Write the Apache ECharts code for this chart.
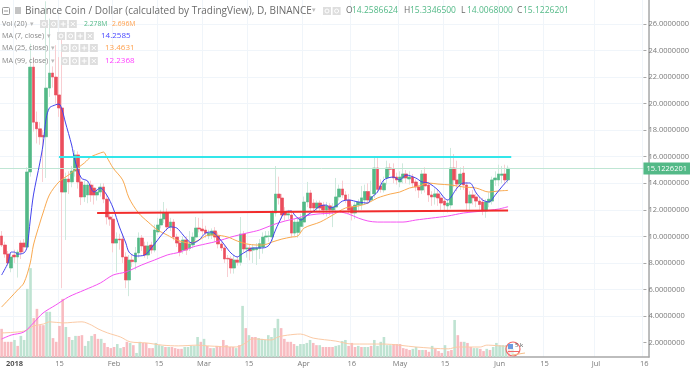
<!DOCTYPE html>
<html>
<head>
<meta charset="utf-8">
<title>BNB/USD</title>
<script src="https://cdn.jsdelivr.net/npm/echarts@6/dist/echarts.min.js"></script>
<style>
  html, body { margin: 0; padding: 0; background: #fff; }
  /* the screenshot this follows is a soft, scaled down one */
  #chart { width: 692px; height: 370px; filter: blur(0.4px); }
</style>
</head>
<body>
<div id="chart"></div>
<script>
// daily candles, first one is 28 Dec 2017
const opens = [
  10.03, 9.35, 8.67, 7.62, 8.6, 8.45, 9.5, 9.5, 9.2, 14.85,
  22.75, 18.6, 18.1, 17.6, 17.5, 21.17, 22.3, 22, 20.65, 19.67,
  13.34, 14.32, 14.1, 14.92, 16.13, 14.1, 12.97, 13.12, 13.87, 13.64,
  13.12, 13.34, 13.72, 12.81, 11.46, 11.3, 9.5, 9.8, 9.8, 8.45,
  6.72, 8.22, 8.07, 8.75, 9.88, 9.28, 8.6, 9.35, 8.97, 10.33,
  10.86, 11.31, 11.76, 10.71, 11.08, 9.95, 9.5, 8.97, 9.73, 9.1,
  9.35, 9.95, 10.63, 10.56, 10.48, 10.05, 10.1, 10.41, 10.03, 9.43,
  9.13, 8.35, 8.3, 7.62, 8.22, 8.05, 10.18, 9.05, 9.13, 8.97,
  9, 9.1, 9.2, 9.95, 10, 9.95, 11.76, 13.19, 12.89, 11.84,
  11.61, 11.61, 10.25, 10.3, 10.75, 11.08, 12.59, 13.27, 12.51, 12.14,
  12.51, 12.36, 11.99, 12.3, 11.99, 12.21, 12.97, 13.57, 13.12, 12.74,
  12.21, 11.76, 12.36, 12.4, 12.74, 13.38, 12.74, 13.2, 15.15, 13.8,
  13.5, 14.4, 15.15, 15.1, 14.47, 14.1, 14.4, 14.7, 14.32, 14.47,
  14.1, 13.72, 13.49, 14.7, 13.87, 13.12, 12.97, 13.2, 12.89, 12.66,
  12.29, 12.36, 15.15, 14.25, 13.94, 14.77, 13.87, 12.51, 13.12, 12.97,
  12.66, 12.59, 11.91, 12.59, 12.66, 14.25, 14.25, 14.6, 14.7, 14.2586624
]
const closes = [
  9.35, 8.67, 8, 8.45, 8.45, 8.82, 8.82, 9.2, 14.85, 22.75,
  18.6, 18.1, 17.5, 17.5, 21.17, 22.3, 22, 20.65, 19.67, 13.34,
  14.32, 14.1, 14.92, 16.13, 14.1, 12.97, 13.87, 13.87, 13.12, 13.12,
  13.34, 13.72, 12.81, 11.46, 11.3, 9.5, 9.8, 9.73, 8.45, 6.72,
  8.22, 8.1, 8.75, 9.88, 9.28, 8.6, 9.28, 8.97, 10.48, 10.86,
  11.31, 11.76, 10.71, 11.08, 9.95, 9.5, 8.82, 9.73, 8.97, 9.43,
  9.95, 10.63, 10.56, 10.41, 10.25, 10.25, 10.4, 9.95, 9.43, 9.13,
  8.3, 8.3, 7.62, 8.22, 8.05, 10.18, 9.05, 9.13, 8.9, 9.13,
  9.13, 9.45, 9.95, 10.03, 10.03, 11.76, 13.19, 12.89, 11.61, 11.61,
  11.7, 10.25, 11.08, 11.08, 11.35, 12.59, 13.27, 12.14, 12.14, 12.51,
  12.14, 11.99, 12.3, 12, 12.2, 12.97, 13.57, 13.12, 12.74, 11.99,
  11.76, 12.36, 12.59, 12.9, 13.38, 12.74, 13, 15.15, 13.54, 13.54,
  14, 15.15, 15.05, 14.4, 14.25, 14.47, 14.7, 14.4, 14.47, 14.02,
  13.72, 13.49, 14.7, 13.8, 13.12, 12.97, 13.2, 12.89, 12.51, 12.36,
  12.51, 15.15, 14.25, 13.94, 14.7, 13.87, 12.51, 13.12, 12.9, 12.66,
  12.4, 11.91, 12.59, 12.8, 14.25, 14.4, 14.7, 14.7, 14.25, 15.1226201
]
const lows = [
  9.2, 8.4, 7.8, 7.3, 8, 6.9, 8.3, 8.8, 9, 14.5,
  17.9, 17, 16.9, 14.1, 14.4, 20.5, 21.2, 20, 19, 6.1,
  9.73, 13.2, 13.7, 14.5, 13.6, 12.36, 12.6, 12.5, 12.6, 12.4,
  12.7, 13, 12.5, 10.9, 10.8, 8.8, 7.3, 9, 8, 6.1,
  5.5, 7.7, 7.5, 8.4, 8.9, 8.4, 8.3, 8.7, 8.8, 10.1,
  10.6, 11, 10.4, 10.4, 9.7, 9.2, 8.5, 8.7, 8.6, 8.9,
  9.1, 9.7, 10.3, 10.1, 9.9, 9.8, 9.8, 9.6, 9.1, 8.9,
  8, 6.94, 7.2, 7.2, 7.8, 7.8, 8.8, 8.4, 8.2, 8,
  7.85, 8.3, 8.7, 9.4, 9.6, 9.6, 11.5, 12.4, 11.3, 11.2,
  11.3, 9.9, 10, 9.9, 10.3, 10.7, 12.2, 11.8, 11.9, 11.9,
  11.8, 11.6, 11.5, 11.6, 10.7, 11.9, 12.7, 12.9, 12.5, 11.7,
  11.2, 11.3, 11.9, 12, 12.4, 12.5, 12.6, 12.9, 13.3, 13.3,
  13.3, 13.9, 14.6, 14, 13.9, 13.7, 14, 14, 13.9, 13.7,
  13.4, 12.9, 13.2, 13.3, 12.6, 12.3, 12.4, 12.3, 11.9, 11.9,
  11.8, 12.1, 13.7, 13.4, 13.5, 13.5, 11.9, 12, 12.4, 12.2,
  12, 11.6, 11.4, 12.2, 12.4, 13.8, 13.8, 14, 13.9, 14.0068
]
const highs = [
  10.4, 9.6, 8.9, 8.8, 9, 9, 9.7, 9.8, 15.2, 24.5,
  23.5, 19.4, 18.6, 18, 27.7, 26.4, 22.8, 24.4, 23.5, 25,
  14.8, 14.9, 15.3, 16.5, 16.4, 14.4, 14.2, 14.2, 14.2, 13.9,
  13.6, 14, 14, 13.2, 11.9, 11.6, 10.3, 10.2, 10.2, 8.8,
  8.6, 8.6, 9.2, 10.3, 10.1, 9.6, 9.6, 9.6, 10.9, 11.4,
  12, 12.59, 12.1, 11.4, 11.3, 10.2, 9.7, 10, 10, 10.4,
  10.3, 11.46, 11.4, 11.3, 10.8, 10.5, 10.6, 10.7, 10.3, 9.6,
  9.3, 8.6, 8.5, 8.6, 8.5, 11.46, 10.4, 9.4, 9.4, 9.4,
  9.5, 9.8, 10.3, 10.4, 10.4, 12, 15.3, 14.5, 13.2, 12.2,
  12, 11.9, 11.3, 11.4, 11.7, 13, 14.1, 13.5, 12.8, 12.7,
  12.7, 12.6, 12.6, 12.5, 12.5, 14.4, 13.9, 14.2, 13.4, 13.2,
  12.4, 12.6, 12.8, 13.8, 13.9, 14, 14.2, 16, 16, 14.3,
  14.5, 15.7, 15.5, 15.5, 14.8, 14.9, 15.5, 15, 14.9, 14.7,
  14.3, 13.9, 15, 15.2, 14.1, 13.4, 13.6, 13.5, 13.1, 12.9,
  12.8, 16.66, 16.2, 15.7, 15.2, 15.3, 14.1, 13.4, 13.5, 13.2,
  13, 12.9, 12.8, 13.3, 14.5, 14.9, 15.4, 15.3, 15.4, 15.3346
]
// volume in millions, 1 = red bar
const volumes = [
  7.6, 4.1, 4.1, 4.1, 4.6, 3, 5.7, 4.6, 18.4, 24,
  10.5, 13, 8.6, 8.6, 12.2, 12.2, 5.1, 4.1, 8.4, 15.7,
  8.1, 5.4, 4.6, 5.7, 5.7, 5.9, 3, 4.3, 5.7, 6.2,
  4.9, 4.9, 3.8, 2.7, 2.4, 2.7, 3.5, 2.4, 2.7, 4.1,
  3.8, 3.2, 1.1, 4.1, 3.8, 3.8, 2.4, 2.4, 3.8, 3.2,
  3, 2.7, 2.7, 2.7, 2.4, 2.2, 2.2, 2.7, 2.7, 3,
  3, 5.4, 4.1, 4.9, 3, 2.4, 2.4, 3, 2.7, 4.6,
  3.2, 2.7, 2.7, 2.4, 3.2, 13.8, 7.8, 5.9, 5.4, 5.4,
  5.1, 4.9, 4.6, 5.9, 5.4, 7.8, 10.3, 7.8, 4.9, 4.1,
  4.1, 3.5, 3, 3.5, 3.5, 3.8, 4.6, 3.8, 3.2, 3.2,
  2.7, 2.7, 2.7, 2.7, 3, 3.2, 4.3, 4.6, 3, 3.8,
  2.7, 3, 2.7, 2.7, 2.7, 3, 4.6, 3, 4.1, 5.4,
  3.2, 3.2, 3.5, 3.5, 3.5, 2.4, 2.2, 1.9, 2.2, 2.7,
  1.9, 1.9, 1.9, 1.4, 3, 2.2, 1.6, 1.1, 3.2, 1.6,
  1.9, 10, 5.9, 4.1, 4.1, 3.8, 2.7, 2.4, 2.4, 2.2,
  1.6, 2.2, 1.9, 2.7, 3.8, 3.2, 3.2, 3.2, 2.7, 2.278
]
const volumeDown = [
  1, 1, 1, 1, 0, 1, 0, 0, 0, 0,
  1, 1, 1, 1, 0, 0, 1, 1, 1, 1,
  0, 1, 0, 0, 1, 1, 0, 0, 0, 1,
  1, 0, 1, 1, 1, 1, 0, 0, 1, 1,
  0, 1, 0, 0, 1, 1, 1, 1, 0, 0,
  0, 1, 0, 1, 1, 1, 1, 0, 0, 0,
  0, 0, 1, 0, 1, 1, 0, 1, 1, 1,
  1, 1, 1, 0, 1, 0, 1, 0, 1, 1,
  0, 0, 0, 0, 0, 0, 0, 1, 1, 1,
  1, 1, 0, 0, 0, 0, 0, 1, 1, 0,
  1, 1, 1, 1, 0, 0, 0, 0, 1, 1,
  1, 0, 1, 0, 0, 1, 0, 0, 0, 0,
  0, 0, 1, 1, 1, 1, 1, 1, 0, 0,
  1, 0, 1, 1, 0, 1, 1, 1, 0, 1,
  1, 0, 1, 1, 0, 1, 1, 0, 0, 1,
  1, 0, 1, 0, 0, 0, 0, 0, 1, 0
]
const ma7 = [
  [-4, 7.09], [-2, 8], [-1, 8.82], [0, 8.82], [1, 8.67], [3, 8.75], [4, 9.2], [5, 11.23], [6, 13.12], [8, 15.53],
  [9, 16.88], [10, 18.91], [11, 19.67], [12, 19.82], [14, 19.97], [15, 19.52], [16, 18.61], [18, 16.88], [19, 15.75], [21, 14.4],
  [23, 14.17], [25, 13.34], [27, 13.64], [29, 13.12], [31, 12.14], [33, 10.71], [35, 9.5], [36, 8.82], [38, 8.52], [41, 8.6],
  [43, 9.13], [45, 9.73], [47, 10.33], [49, 10.71], [51, 10.63], [53, 10.1], [55, 9.58], [56, 9.5], [58, 9.73], [60, 10.25],
  [62, 10.33], [64, 9.95], [66, 9.35], [68, 8.75], [70, 8.45], [71, 8.6], [73, 8.9], [75, 9.13], [78, 9.13], [80, 9.35],
  [82, 10.48], [83, 11], [85, 11.84], [87, 11.91], [88, 11.61], [90, 11.23], [92, 11.61], [94, 11.91], [96, 12.29], [98, 12.36],
  [99, 12.14], [101, 12.29], [103, 12.66], [105, 12.74], [108, 12.59], [111, 12.51], [112, 12.89], [114, 13.34], [116, 14.25], [119, 14.47],
  [121, 14.25], [123, 14.62], [126, 14.4], [128, 14.1], [130, 14.02], [133, 13.49], [135, 12.89], [136, 12.74], [139, 13.64], [141, 14.02],
  [143, 14.02], [145, 13.27], [147, 12.74], [149, 12.59], [151, 13.12], [153, 13.72], [155, 14.2585]
]
const ma25 = [
  [-4, 4.68], [-1, 5.44], [1, 5.96], [3, 6.49], [5, 8], [6, 9.35], [8, 11], [9, 11.76], [11, 13.12], [14, 14.1],
  [17, 14.62], [19, 15], [22, 15.53], [24, 15.98], [27, 16.28], [28, 16.35], [29, 15.98], [31, 15.15], [34, 14.25], [36, 12.89],
  [39, 11.76], [42, 11.08], [45, 10.48], [48, 10.1], [51, 9.73], [55, 9.5], [58, 9.73], [61, 10.1], [63, 10.1], [67, 9.95],
  [70, 9.65], [73, 9.43], [76, 9.35], [78, 9.35], [81, 9.58], [84, 9.8], [87, 9.95], [89, 10.03], [91, 10.63], [96, 11.08],
  [100, 11.61], [104, 12.14], [108, 12.29], [111, 12.51], [114, 12.89], [118, 13.19], [121, 13.34], [124, 13.64], [127, 13.79], [130, 14.02],
  [133, 13.94], [137, 13.87], [141, 13.72], [145, 13.64], [149, 13.34], [152, 13.42], [155, 13.4631]
]
const ma99 = [
  [-4, 2.27], [-1, 2.57], [3, 2.8], [6, 3.48], [9, 4.23], [13, 4.83], [17, 5.44], [22, 5.96], [27, 6.49], [31, 7.09],
  [35, 7.32], [40, 7.85], [44, 8.22], [48, 8.6], [52, 8.82], [56, 9.2], [60, 9.43], [64, 9.65], [68, 9.95], [73, 10.25],
  [77, 10.48], [81, 10.86], [85, 11.16], [89, 11.38], [91, 11.53], [95, 11.68], [100, 11.76], [102, 11.84], [105, 11.68], [108, 11.38],
  [111, 11.16], [114, 11.08], [118, 11.08], [122, 11.08], [126, 11.23], [131, 11.38], [136, 11.53], [141, 11.76], [147, 11.91], [152, 12.06],
  [155, 12.2368]
]
const volumeMa = [
  [-4, 6.5], [3, 7], [6, 8.4], [9, 8.9], [11, 9.5], [15, 9.2], [21, 9.5], [24, 8.6], [26, 7.6], [29, 6.5],
  [33, 5.4], [36, 4.1], [41, 3.8], [46, 3.2], [51, 3], [57, 3.2], [60, 3], [69, 2.7], [72, 3.8], [74, 4.9],
  [80, 4.6], [82, 5.4], [85, 5.9], [89, 6.2], [93, 5.1], [100, 4.3], [105, 3.5], [115, 3.5], [125, 2.7], [135, 2.2],
  [138, 2.7], [145, 2.7], [147, 3.2], [155, 2.696]
]
// hand drawn trend lines
const resistance = [[14, 15.98], [156, 15.98]]
const support = [[26, 11.76], [155, 11.95]]
const lastPrice = 15.1226201
const priceTicks = [2, 4, 6, 8, 10, 12, 14, 16, 18, 20, 22, 24, 26]
const dateTicks = {
  '2018-01-01': '2018', '2018-01-15': '15', '2018-02-01': 'Feb', '2018-02-15': '15',
  '2018-03-01': 'Mar', '2018-03-15': '15', '2018-04-01': 'Apr', '2018-04-16': '16',
  '2018-05-01': 'May', '2018-05-15': '15', '2018-06-01': 'Jun', '2018-06-15': '15',
  '2018-07-01': 'Jul', '2018-07-16': '16'
}

const GREEN = '#53b987'
const RED = '#eb4d5c'
const FONT = '"Open Sans", sans-serif'

let categories = []
for (let i = 0; i < 202; i++) {
  categories.push(new Date(Date.UTC(2017, 11, 28 + i)).toISOString().slice(0, 10))
}
const toIndex = (list) => list.map((p) => [p[0] + 4, p[1]])
const isTick = (index, value) => dateTicks[value] !== undefined

const wickData = opens.map((o, i) => [o, closes[i], lows[i], highs[i]])
const bodyData = opens.map((o, i) => [o, closes[i], Math.min(o, closes[i]), Math.max(o, closes[i])])
const volumeData = volumes.map((v, i) => ({
  value: v,
  itemStyle: { color: volumeDown[i] ? '#f8bcc1' : '#bfe3d2' }
}))

// legend rows and toolbar buttons in the top left corner
function label(x, y, text, color, size) {
  return {
    type: 'text',
    x: x,
    y: y,
    silent: true,
    style: {
      text: text,
      fill: color,
      fontSize: size,
      fontFamily: FONT,
      textVerticalAlign: 'middle'
    }
  }
}
function stroke(x1, y1, x2, y2) {
  return {
    type: 'line',
    silent: true,
    shape: { x1: x1, y1: y1, x2: x2, y2: y2 },
    style: { stroke: '#fff', lineWidth: 1 }
  }
}
function buttons(x, y, count) {
  let res = []
  for (let i = 0; i < count; i++) {
    const bx = x + i * 9.6
    res.push({
      type: 'rect',
      silent: true,
      shape: { x: bx, y: y - 4, width: 8, height: 8 },
      style: { fill: '#dedede' }
    })
    if (i < 2) {
      res.push({
        type: 'circle',
        silent: true,
        shape: { cx: bx + 4, cy: y, r: 2 },
        style: { fill: 'none', stroke: '#fff', lineWidth: 1 }
      })
    } else if (i === 2) {
      res.push(stroke(bx + 1.5, y, bx + 6.5, y), stroke(bx + 4, y - 2.5, bx + 4, y + 2.5))
    } else {
      res.push(stroke(bx + 2, y - 2, bx + 6, y + 2), stroke(bx + 6, y - 2, bx + 2, y + 2))
    }
  }
  return res
}
const rows = [
  { y: 24, name: 'Vol (20)', arrow: 30, box: 40 },
  { y: 36, name: 'MA (7, close)', arrow: 47, box: 57 },
  { y: 48, name: 'MA (25, close)', arrow: 51, box: 61 },
  { y: 61, name: 'MA (99, close)', arrow: 51, box: 61 }
]
let graphics = [
  { type: 'rect', silent: true, shape: { x: 2.5, y: 7.5, width: 7, height: 7, r: 1 }, style: { fill: 'none', stroke: '#999' } },
  { type: 'line', silent: true, shape: { x1: 4, y1: 11, x2: 8, y2: 11 }, style: { stroke: '#999' } },
  { type: 'rect', silent: true, shape: { x: 15, y: 7, width: 6, height: 7 }, style: { fill: '#c4c4c4' } },
  label(25, 11, 'Binance Coin / Dollar (calculated by TradingView), D, BINANCE', '#6b6b6b', 10),
  label(312, 10, '▾', '#bbb', 7)
].concat(buttons(323, 11, 2))
rows.forEach((r) => {
  graphics.push(label(2, r.y, r.name, '#888', 7.2))
  graphics.push(label(r.arrow, r.y, '▾', '#bbb', 7))
  graphics = graphics.concat(buttons(r.box, r.y, 4))
})
graphics.push(label(84, 24, '2.278M', GREEN, 6.8))
graphics.push(label(112, 24, '2.696M', '#ffa04d', 6.8))
graphics.push(label(101, 36, '14.2585', '#4a4aff', 8))
graphics.push(label(105, 48, '13.4631', '#ffa04d', 8))
graphics.push(label(105, 61, '12.2368', '#ff40ff', 8))
const ohlc = [
  [346, 'O', '14.2586624'], [404, 'H', '15.3346500'],
  [461, 'L', '14.0068000'], [517, 'C', '15.1226201']
]
ohlc.forEach((o) => {
  graphics.push(label(o[0], 11, o[1], '#6b6b6b', 8.5))
  graphics.push(label(o[0] + 6, 11, o[2], GREEN, 8.5))
})
// earnings bubble sitting on the last bars, bars show through it
graphics.push({ type: 'circle', silent: true, shape: { cx: 513, cy: 349, r: 7 }, style: { fill: 'rgba(255,255,255,0.5)', stroke: '#f0686a', lineWidth: 1.2 } })
graphics.push({ type: 'rect', silent: true, shape: { x: 508, y: 344, width: 5, height: 5 }, style: { fill: '#6d9be0' } })
graphics.push({ type: 'rect', silent: true, shape: { x: 508, y: 351, width: 11, height: 1 }, style: { fill: '#f0686a' } })
graphics.push({ type: 'line', silent: true, shape: { x1: 512, y1: 355, x2: 525, y2: 353 }, style: { stroke: '#f7c08a', lineWidth: 1 } })
graphics.push(label(515, 345.5, '5 k', '#555', 6))
// keep the legend above the wicks that run up through it
graphics.forEach((g) => {
  g.z = 100
})

const chart = echarts.init(document.getElementById('chart'), null, { renderer: 'canvas' })
const option = {
  backgroundColor: '#fff',
  animation: false,
  graphic: graphics,
  grid: [
    // price pane runs past the time axis so that the price axis can start from 0
    { left: -1.5, width: 650.5, top: 0, height: 369.2 },
    { left: -1.5, width: 650.5, top: 0, height: 357 }
  ],
  xAxis: [
    {
      type: 'category',
      gridIndex: 0,
      data: categories,
      axisLine: { show: false },
      axisTick: { show: false },
      axisLabel: { show: false },
      splitLine: { show: false }
    },
    {
      type: 'category',
      gridIndex: 1,
      data: categories,
      axisLine: { lineStyle: { color: '#a8a8a8', width: 1.5 } },
      axisTick: { show: false },
      axisLabel: {
        interval: isTick,
        formatter: (value) => value === '2018-01-01' ? '{b|2018}' : dateTicks[value],
        color: '#7a7a7a',
        fontSize: 7.5,
        margin: 3,
        fontFamily: FONT,
        rich: {
          b: { fontWeight: 'bold', color: '#555', fontSize: 7.5, fontFamily: FONT }
        }
      },
      splitLine: { show: true, interval: isTick, lineStyle: { color: '#f0f5fa' } }
    }
  ],
  yAxis: [
    {
      type: 'value',
      gridIndex: 0,
      position: 'right',
      min: 0,
      max: 27.8,
      interval: 2,
      axisLine: { show: false },
      axisTick: { show: true, customValues: priceTicks, length: 3, lineStyle: { color: '#a8a8a8' } },
      axisLabel: {
        customValues: priceTicks,
        formatter: (value) => value.toFixed(7),
        color: '#7a7a7a',
        fontSize: 7.5,
        margin: 5,
        fontFamily: FONT
      },
      splitLine: { show: true, showMinLine: false, lineStyle: { color: '#f0f5fa' } }
    },
    {
      type: 'value',
      gridIndex: 1,
      position: 'right',
      min: 0,
      max: 96.4,
      axisLine: { show: true, lineStyle: { color: '#a8a8a8', width: 1.5 } },
      axisTick: { show: false },
      axisLabel: { show: false },
      splitLine: { show: false }
    }
  ],
  series: [
    {
      name: 'Vol',
      type: 'bar',
      xAxisIndex: 1,
      yAxisIndex: 1,
      barWidth: 2.6,
      data: volumeData,
      z: 1
    },
    {
      name: 'Vol MA',
      type: 'line',
      xAxisIndex: 1,
      yAxisIndex: 1,
      data: toIndex(volumeMa),
      showSymbol: false,
      smooth: 0.3,
      lineStyle: { color: '#fbcaa5', width: 1 },
      z: 2
    },
    {
      name: 'Wicks',
      type: 'candlestick',
      xAxisIndex: 0,
      yAxisIndex: 0,
      barWidth: 3,
      data: wickData,
      itemStyle: { color: '#cfe9dd', color0: '#f8ced2', borderColor: '#cfe9dd', borderColor0: '#f8ced2', borderWidth: 1 },
      z: 3
    },
    {
      name: 'Bodies',
      type: 'candlestick',
      xAxisIndex: 0,
      yAxisIndex: 0,
      barWidth: 3.2,
      data: bodyData,
      itemStyle: { color: GREEN, color0: RED, borderColor: GREEN, borderColor0: RED, borderWidth: 0.5 },
      markLine: {
        silent: true,
        symbol: 'none',
        data: [{ yAxis: lastPrice }],
        lineStyle: { color: '#bfe6d4', type: 'solid', width: 1 },
        label: {
          position: 'end',
          distance: 0,
          formatter: () => lastPrice.toFixed(7),
          color: '#fff',
          backgroundColor: GREEN,
          fontSize: 7.5,
          fontFamily: FONT,
          padding: [2, 3, 2, 3]
        }
      },
      z: 4
    },
    {
      name: 'MA 99',
      type: 'line',
      data: toIndex(ma99),
      showSymbol: false,
      smooth: 0.3,
      lineStyle: { color: '#f552f2', width: 1 },
      z: 5
    },
    {
      name: 'MA 25',
      type: 'line',
      data: toIndex(ma25),
      showSymbol: false,
      smooth: 0.3,
      lineStyle: { color: '#f9a94f', width: 1 },
      z: 5
    },
    {
      name: 'MA 7',
      type: 'line',
      data: toIndex(ma7),
      showSymbol: false,
      smooth: 0.3,
      lineStyle: { color: '#4343ee', width: 1 },
      z: 5
    },
    {
      name: 'Resistance',
      type: 'line',
      data: toIndex(resistance),
      showSymbol: false,
      lineStyle: { color: '#33e6ea', width: 2 },
      z: 6
    },
    {
      name: 'Support',
      type: 'line',
      data: toIndex(support),
      showSymbol: false,
      lineStyle: { color: '#f22c2c', width: 2 },
      z: 6
    }
  ]
}
chart.setOption(option)
</script>
</body>
</html>
